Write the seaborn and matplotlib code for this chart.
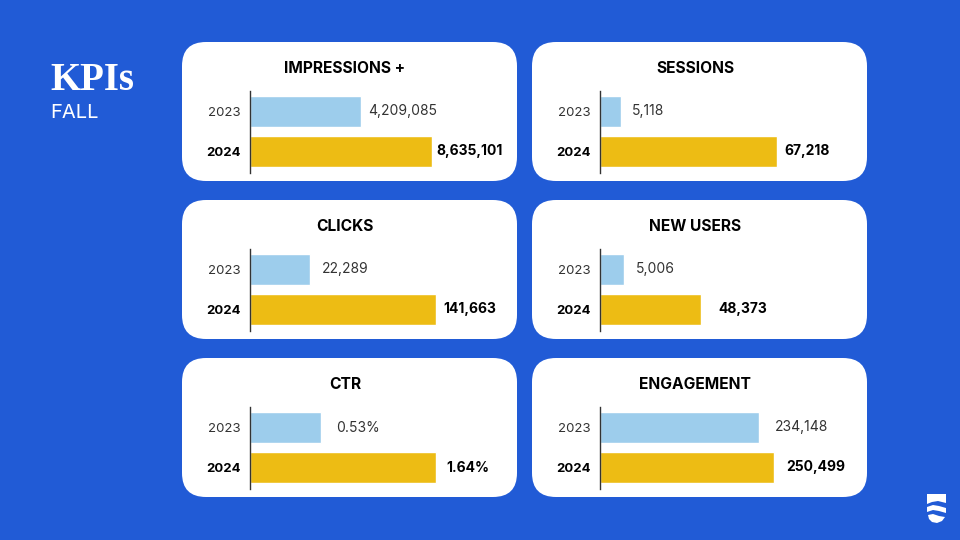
import pandas as pd
import matplotlib
matplotlib.use('Agg')
import matplotlib.pyplot as plt
import seaborn as sns
from matplotlib.patches import FancyBboxPatch, Polygon

sns.set_style('white')
plt.rcParams['font.family'] = ['Inter', 'DejaVu Sans']

# panel data
titles = ['IMPRESSIONS +', 'SESSIONS', 'CLICKS', 'NEW USERS', 'CTR', 'ENGAGEMENT']
years = ['2023', '2024']
labels_2023 = ['4,209,085', '5,118', '22,289', '5,006', '0.53%', '234,148']
labels_2024 = ['8,635,101', '67,218', '141,663', '48,373', '1.64%', '250,499']

# the bars in the source are not to scale across years, so keep the drawn lengths
lengths_2023 = [111, 21, 60, 24, 71, 159]
lengths_2024 = [182, 177, 186, 101, 186, 174]

# gap between bar end and its label
gaps_2023 = [7, 11, 12, 12, 15, 16]
gaps_2024 = [4, 7, 7, 17, 10, 12]

BLUE = '#215BD6'
LIGHT = '#9DCDEC'
GOLD = '#EDBC14'
W, H = 960, 540
card_w, card_h = 335, 139
card_x = [182, 532]
card_y = [42, 200, 358]

fig = plt.figure(figsize=(9.6, 5.4), dpi=100, facecolor=BLUE)

# background layer in pixel coordinates
bg = fig.add_axes([0, 0, 1, 1])
bg.set_xlim(0, W)
bg.set_ylim(H, 0)
bg.axis('off')

bg.text(50, 80, 'KPIs', color='white', fontsize=28, fontweight='bold',
        family='Liberation Serif', va='center', ha='left')
bg.text(50, 113, 'FALL', color='white', fontsize=14.5, va='center', ha='left')

for i, title in enumerate(titles):
    x0 = card_x[i % 2]
    y0 = card_y[i // 2]
    bg.add_patch(FancyBboxPatch((x0, y0), card_w, card_h,
                                boxstyle='round,pad=0,rounding_size=24',
                                fc='white', ec='none'))
    bg.text(x0 + card_w / 2 - 4.5, y0 + 26.5, title, color='black', fontsize=11.2,
            fontweight='bold', ha='center', va='center')

    # bar axes, one pixel per x unit
    ax_left = x0 + 68
    ax_top = y0 + 49
    ax_w, ax_h = 250, 82
    ax = fig.add_axes([ax_left / W, 1 - (ax_top + ax_h) / H, ax_w / W, ax_h / H])
    ax.patch.set_alpha(0)
    df = pd.DataFrame({'year': years, 'length': [lengths_2023[i], lengths_2024[i]]})
    sns.barplot(data=df, x='length', y='year', hue='year', order=years,
                palette={'2023': LIGHT, '2024': GOLD}, saturation=1, width=0.79,
                legend=False, ax=ax)
    ax.set_xlim(0, ax_w)
    ax.set_ylim(1.5375, -0.5125)
    ax.set_xlabel('')
    ax.set_ylabel('')
    ax.set_xticks([])
    ax.tick_params(axis='y', length=0, pad=6.5)
    sns.despine(ax=ax, bottom=True)
    ax.spines['left'].set_color('#333333')
    ax.spines['left'].set_linewidth(1)

    ticks = ax.get_yticklabels()
    ticks[0].set_fontsize(9.5)
    ticks[0].set_color('#333333')
    ticks[1].set_fontsize(9.5)
    ticks[1].set_fontweight('bold')
    ticks[1].set_color('black')

    ax.text(lengths_2023[i] + gaps_2023[i], 0, labels_2023[i], color='#333333',
            fontsize=10, va='center', ha='left', clip_on=False)
    ax.text(lengths_2024[i] + gaps_2024[i], 1, labels_2024[i], color='black',
            fontsize=10, fontweight='bold', va='center', ha='left', clip_on=False)

# logo, bottom right
bg.add_patch(Polygon([(927, 494), (946, 494), (946, 503), (938, 501), (932, 502), (927, 504)],
                     fc='white', ec='none'))
bg.add_patch(Polygon([(927, 507), (933, 505), (939, 506), (946, 508), (946, 513),
                      (939, 511), (933, 510), (927, 512)], fc='white', ec='none'))
bg.add_patch(Polygon([(928, 515), (933, 514), (939, 516), (945, 517), (942, 521),
                      (937, 523), (932, 522), (929, 519)], fc='white', ec='none'))

plt.savefig('out.png', dpi=100, facecolor=BLUE)
